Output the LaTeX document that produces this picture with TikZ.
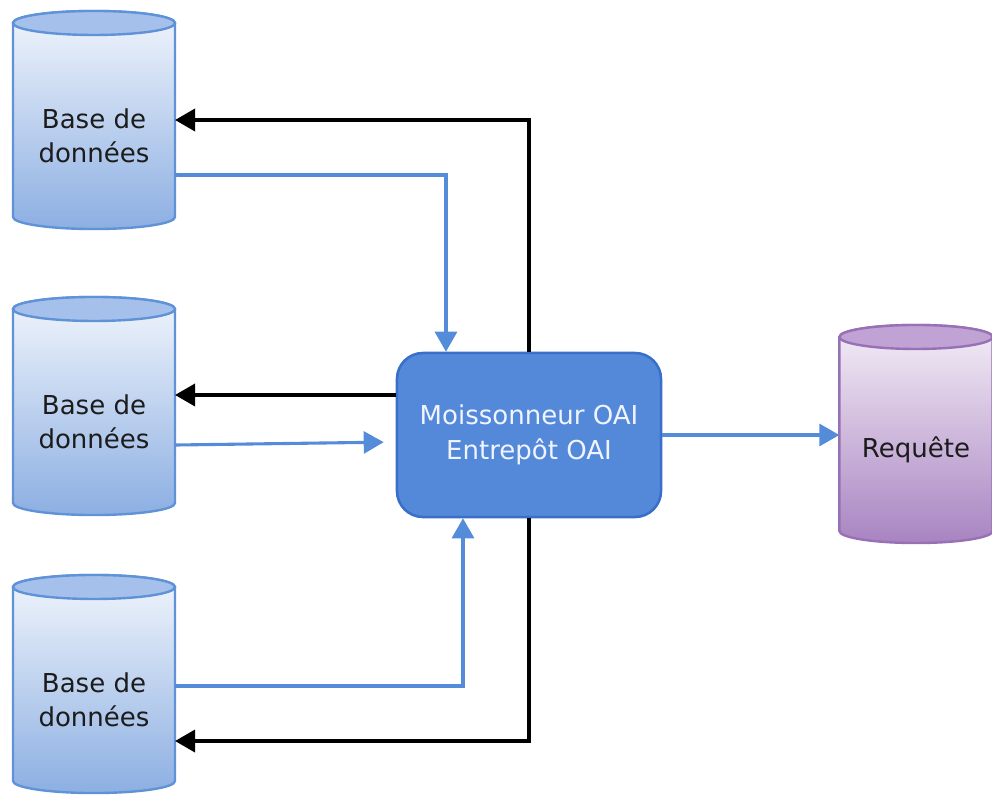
\documentclass[tikz,border=0pt]{standalone}
\usepackage{fontspec}
\setmainfont{DejaVu Sans}
\definecolor{DrumTop}{RGB}{241, 245, 252}
\definecolor{DrumBottom}{RGB}{140, 175, 226}
\definecolor{DrumLine}{RGB}{96, 146, 216}
\definecolor{DrumCap}{RGB}{165, 193, 235}
\definecolor{QueryTop}{RGB}{244, 238, 247}
\definecolor{QueryBottom}{RGB}{168, 132, 193}
\definecolor{QueryLine}{RGB}{152, 112, 182}
\definecolor{QueryCap}{RGB}{192, 162, 212}
\definecolor{HubFill}{RGB}{83, 137, 216}
\definecolor{HubLine}{RGB}{56, 111, 201}
\definecolor{HubText}{RGB}{240, 244, 255}
\definecolor{FlowBlue}{RGB}{85, 140, 218}
\definecolor{TextGray}{RGB}{28, 28, 28}
\usetikzlibrary{arrows.meta, positioning, calc, backgrounds}

% cylinder behind a named node, colours <set>Top/Bottom/Line/Cap
\newcommand{\drum}[2]{%
  \begin{scope}[on background layer]
    \shade[top color=#2Top, bottom color=#2Bottom, draw=#2Line, line width=1.7pt]
      let \p1=(#1.north west), \p2=(#1.north east), \n1={(\x2-\x1)/2} in
      ([yshift=-0.3cm]#1.north west) -- ([yshift=0.3cm]#1.south west)
      arc[start angle=180, end angle=360, x radius=\n1, y radius=0.3cm]
      -- ([yshift=-0.3cm]#1.north east)
      arc[start angle=0, end angle=180, x radius=\n1, y radius=0.3cm] -- cycle;
    \filldraw[fill=#2Cap, draw=#2Line, line width=1.7pt]
      let \p1=(#1.north west), \p2=(#1.north east), \n1={(\x2-\x1)/2} in
      ([yshift=-0.3cm]#1.north) ellipse[x radius=\n1, y radius=0.3cm];
  \end{scope}}

\begin{document}
\begin{tikzpicture}[x=0.025cm, y=-0.025cm,
        drum/.style={rectangle, inner sep=0pt, outer sep=0pt, minimum width=4.05cm, minimum height=5.45cm},
        drumtext/.style={align=center, yshift=-0.4cm, text=TextGray, font=\fontsize{18.5}{24.5}\selectfont},
        hub/.style={rectangle, rounded corners=0.65cm, draw=HubLine, line width=1.8pt, fill=HubFill, minimum width=6.6cm, minimum height=4.1cm, align=center, text=HubText, font=\fontsize{18.5}{24.5}\selectfont},
        fwd/.style={-{Triangle[length=0.5cm, width=0.55cm]}, draw=FlowBlue, line width=2.2pt},
        back/.style={-{Triangle[length=0.5cm, width=0.55cm]}, draw=black, line width=2.6pt}
    ]
        \useasboundingbox (0,0) rectangle (992,795);
        \node[drum, label={[drumtext]center:Base de\\données}] (base1) at (94,120) {};
        \node[drum, label={[drumtext]center:Base de\\données}] (base2) at (94,406) {};
        \node[drum, label={[drumtext]center:Base de\\données}] (base3) at (94,684) {};
        \node[hub] (harvester) at (529,435) {Moissonneur OAI\\Entrepôt OAI};
        \node[drum, minimum width=3.83cm, label={[drumtext]center:Requête}] (query) at (916,434) {};
        \drum{base1}{Drum}
        \drum{base2}{Drum}
        \drum{base3}{Drum}
        \drum{query}{Query}
        % harvesting and answers
        \draw[back] (harvester.north) |- (base1.east);
        \draw[fwd] ([yshift=-1.375cm]base1.east) -| ([xshift=-2.075cm]harvester.north);
        \draw[back] ([yshift=1cm]harvester.west) -- ([yshift=1cm]harvester.west -| base2.east);
        \draw[fwd, shorten >=0.3cm] ([yshift=-0.975cm]base2.east) -- ([yshift=-0.175cm]harvester.west);
        \draw[fwd] ([yshift=-0.05cm]base3.east) -| ([xshift=-1.65cm]harvester.south);
        \draw[back] (harvester.south) |- ([yshift=-1.425cm]base3.east);
        \draw[fwd] (harvester.east) -- (harvester.east -| query.west);
    \end{tikzpicture}
\end{document}
